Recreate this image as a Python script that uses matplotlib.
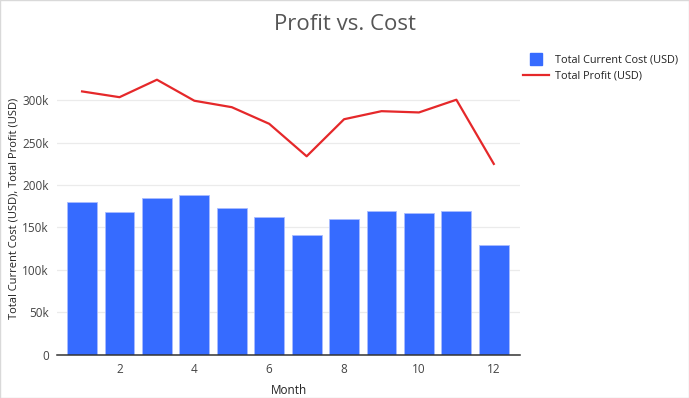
import matplotlib.pyplot as plt
from matplotlib.ticker import FuncFormatter
from matplotlib.lines import Line2D
from matplotlib.patches import Rectangle

plt.rcParams['font.family'] = ['Open Sans', 'DejaVu Sans']

# monthly data
months = [1, 2, 3, 4, 5, 6, 7, 8, 9, 10, 11, 12]
cost = [179400, 167600, 184600, 188500, 172300, 162200, 140900, 159300, 169300, 166900, 169600, 128600]
profit = [310300, 303500, 324100, 299300, 291700, 272100, 233800, 277500, 287000, 285500, 300500, 224800]
yticks = [0, 50000, 100000, 150000, 200000, 250000, 300000]

fig = plt.figure(figsize=(6.89, 3.98), dpi=100)
ax = fig.add_axes([57 / 689, 1 - 354.5 / 398, (520 - 57) / 689, (354.5 - 62) / 398])

ax.bar(months, cost, width=0.8, color='#366bff', edgecolor='#a9bcff', linewidth=0.6, zorder=2)
ax.plot(months, profit, color='#e5282a', linewidth=1.6, zorder=3)

ax.set_xlim(0.33, 12.7)
ax.set_ylim(0, 345000)
ax.set_xticks([2, 4, 6, 8, 10, 12])
ax.set_yticks(yticks)
ax.yaxis.set_major_formatter(FuncFormatter(lambda v, p: '0' if v == 0 else f'{int(v / 1000)}k'))
ax.tick_params(length=0, labelsize=8.5, colors='#444444', pad=6)
ax.grid(axis='y', color='#ebebeb', linewidth=0.9, zorder=0)
for s in ['top', 'right', 'left']:
    ax.spines[s].set_visible(False)
ax.spines['bottom'].set_color('#333333')
ax.spines['bottom'].set_linewidth(1.1)

ax.set_xlabel('Month', fontsize=8.5, color='#222222', labelpad=6)
ax.set_ylabel('Total Current Cost (USD), Total Profit (USD)', fontsize=8, color='#222222')
ax.yaxis.set_label_coords(-(57 - 20) / 463, 0.5)

fig.text(0.5, 1 - 24 / 398, 'Profit vs. Cost', ha='center', va='center', fontsize=16, color='#555555')

handles = [Line2D([0], [0], marker='s', markersize=9, color='#366bff', linestyle='none'),
           Line2D([0], [0], color='#e5282a', linewidth=1.6)]
fig.legend(handles, ['Total Current Cost (USD)', 'Total Profit (USD)'],
           loc='upper left', bbox_to_anchor=(513 / 689, 1 - 45 / 398), frameon=False,
           fontsize=7.8, handlelength=2.4, labelspacing=0.45, handletextpad=0.6,
           labelcolor='#222222')

fig.patches.append(Rectangle((0, 0), 1, 1, transform=fig.transFigure, fill=False,
                             edgecolor='#d9d9d9', linewidth=1))

fig.savefig('out.png', dpi=100)
